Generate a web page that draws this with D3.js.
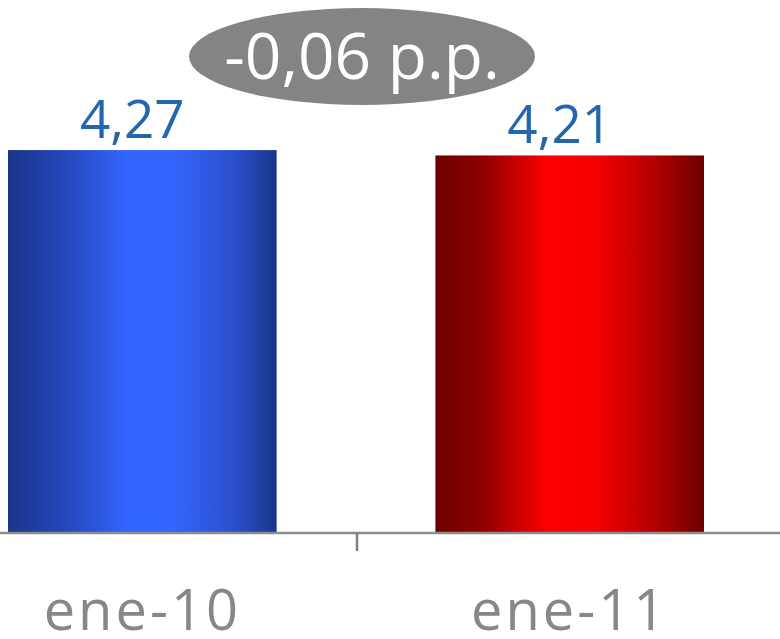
<!DOCTYPE html>
<html><head><meta charset="utf-8">
<script src="https://cdn.jsdelivr.net/npm/d3@7"></script>
<style>body{margin:0;background:#fff}svg{display:block}</style>
</head><body>
<script>
const categories = ["ene-10", "ene-11"];
const values = [4.27, 4.21];
const valueLabels = ["4,27", "4,21"];
const diffLabel = "-0,06 p.p.";

const W = 780, H = 639;
const svg = d3.select("body").append("svg").attr("width", W).attr("height", H);
const defs = svg.append("defs");

const grads = [
  {id: "gBlue", stops: [["0%", "#1a3588"], ["20%", "#2446b8"], ["45%", "#3366ff"], ["60%", "#3366ff"], ["85%", "#2a4fcc"], ["100%", "#1a3588"]]},
  {id: "gRed", stops: [["0%", "#6e0000"], ["18%", "#900000"], ["42%", "#ff0000"], ["60%", "#f50000"], ["82%", "#b00000"], ["100%", "#6e0000"]]}
];
grads.forEach(g => {
  const lg = defs.append("linearGradient").attr("id", g.id).attr("x1", "0%").attr("x2", "100%").attr("y1", "0%").attr("y2", "0%");
  g.stops.forEach(s => lg.append("stop").attr("offset", s[0]).attr("stop-color", s[1]));
});

const x = d3.scaleBand().domain(categories).range([8, 704]).paddingInner(0.3715).paddingOuter(0);
const y = d3.scaleLinear().domain([0, 5]).range([533, 84.6]);

svg.selectAll("rect.bar").data(values).enter().append("rect")
  .attr("class", "bar")
  .attr("x", (d, i) => x(categories[i]))
  .attr("width", x.bandwidth())
  .attr("y", d => y(d))
  .attr("height", d => y(0) - y(d))
  .attr("fill", (d, i) => `url(#${grads[i].id})`);

// axis
const axisG = svg.append("g").attr("transform", `translate(0,${y(0)})`);
axisG.append("line").attr("x1", 0).attr("x2", W).attr("y1", 0).attr("y2", 0)
  .attr("stroke", "#8c8c8c").attr("stroke-width", 2.5);
const mid = (x(categories[0]) + x.bandwidth() + x(categories[1])) / 2;
axisG.append("line").attr("x1", mid + 1).attr("x2", mid + 1).attr("y1", 0).attr("y2", 18)
  .attr("stroke", "#808080").attr("stroke-width", 2.5);

svg.selectAll("text.cat").data(categories).enter().append("text")
  .attr("class", "cat")
  .attr("x", d => x(d) + x.bandwidth() / 2)
  .attr("y", 630)
  .attr("text-anchor", "middle")
  .attr("font-family", "Open Sans")
  .attr("font-size", 56)
  .attr("letter-spacing", 3)
  .attr("fill", "#878787")
  .text(d => d);

svg.selectAll("text.val").data(values).enter().append("text")
  .attr("class", "val")
  .attr("x", (d, i) => x(categories[i]) + x.bandwidth() / 2 - 10)
  .attr("y", d => y(d) - 12)
  .attr("text-anchor", "middle")
  .attr("font-family", "Open Sans")
  .attr("font-size", 53)
  .attr("fill", "#2466ae")
  .text((d, i) => valueLabels[i]);

// difference bubble
const bx = mid + 6, by = 56.5;
svg.append("ellipse").attr("cx", bx).attr("cy", by).attr("rx", 173).attr("ry", 48.5).attr("fill", "#848484");
svg.append("text").attr("x", bx).attr("y", 79).attr("text-anchor", "middle")
  .attr("font-family", "Open Sans").attr("font-size", 64).attr("fill", "#ffffff")
  .text(diffLabel);
</script>
</body></html>
